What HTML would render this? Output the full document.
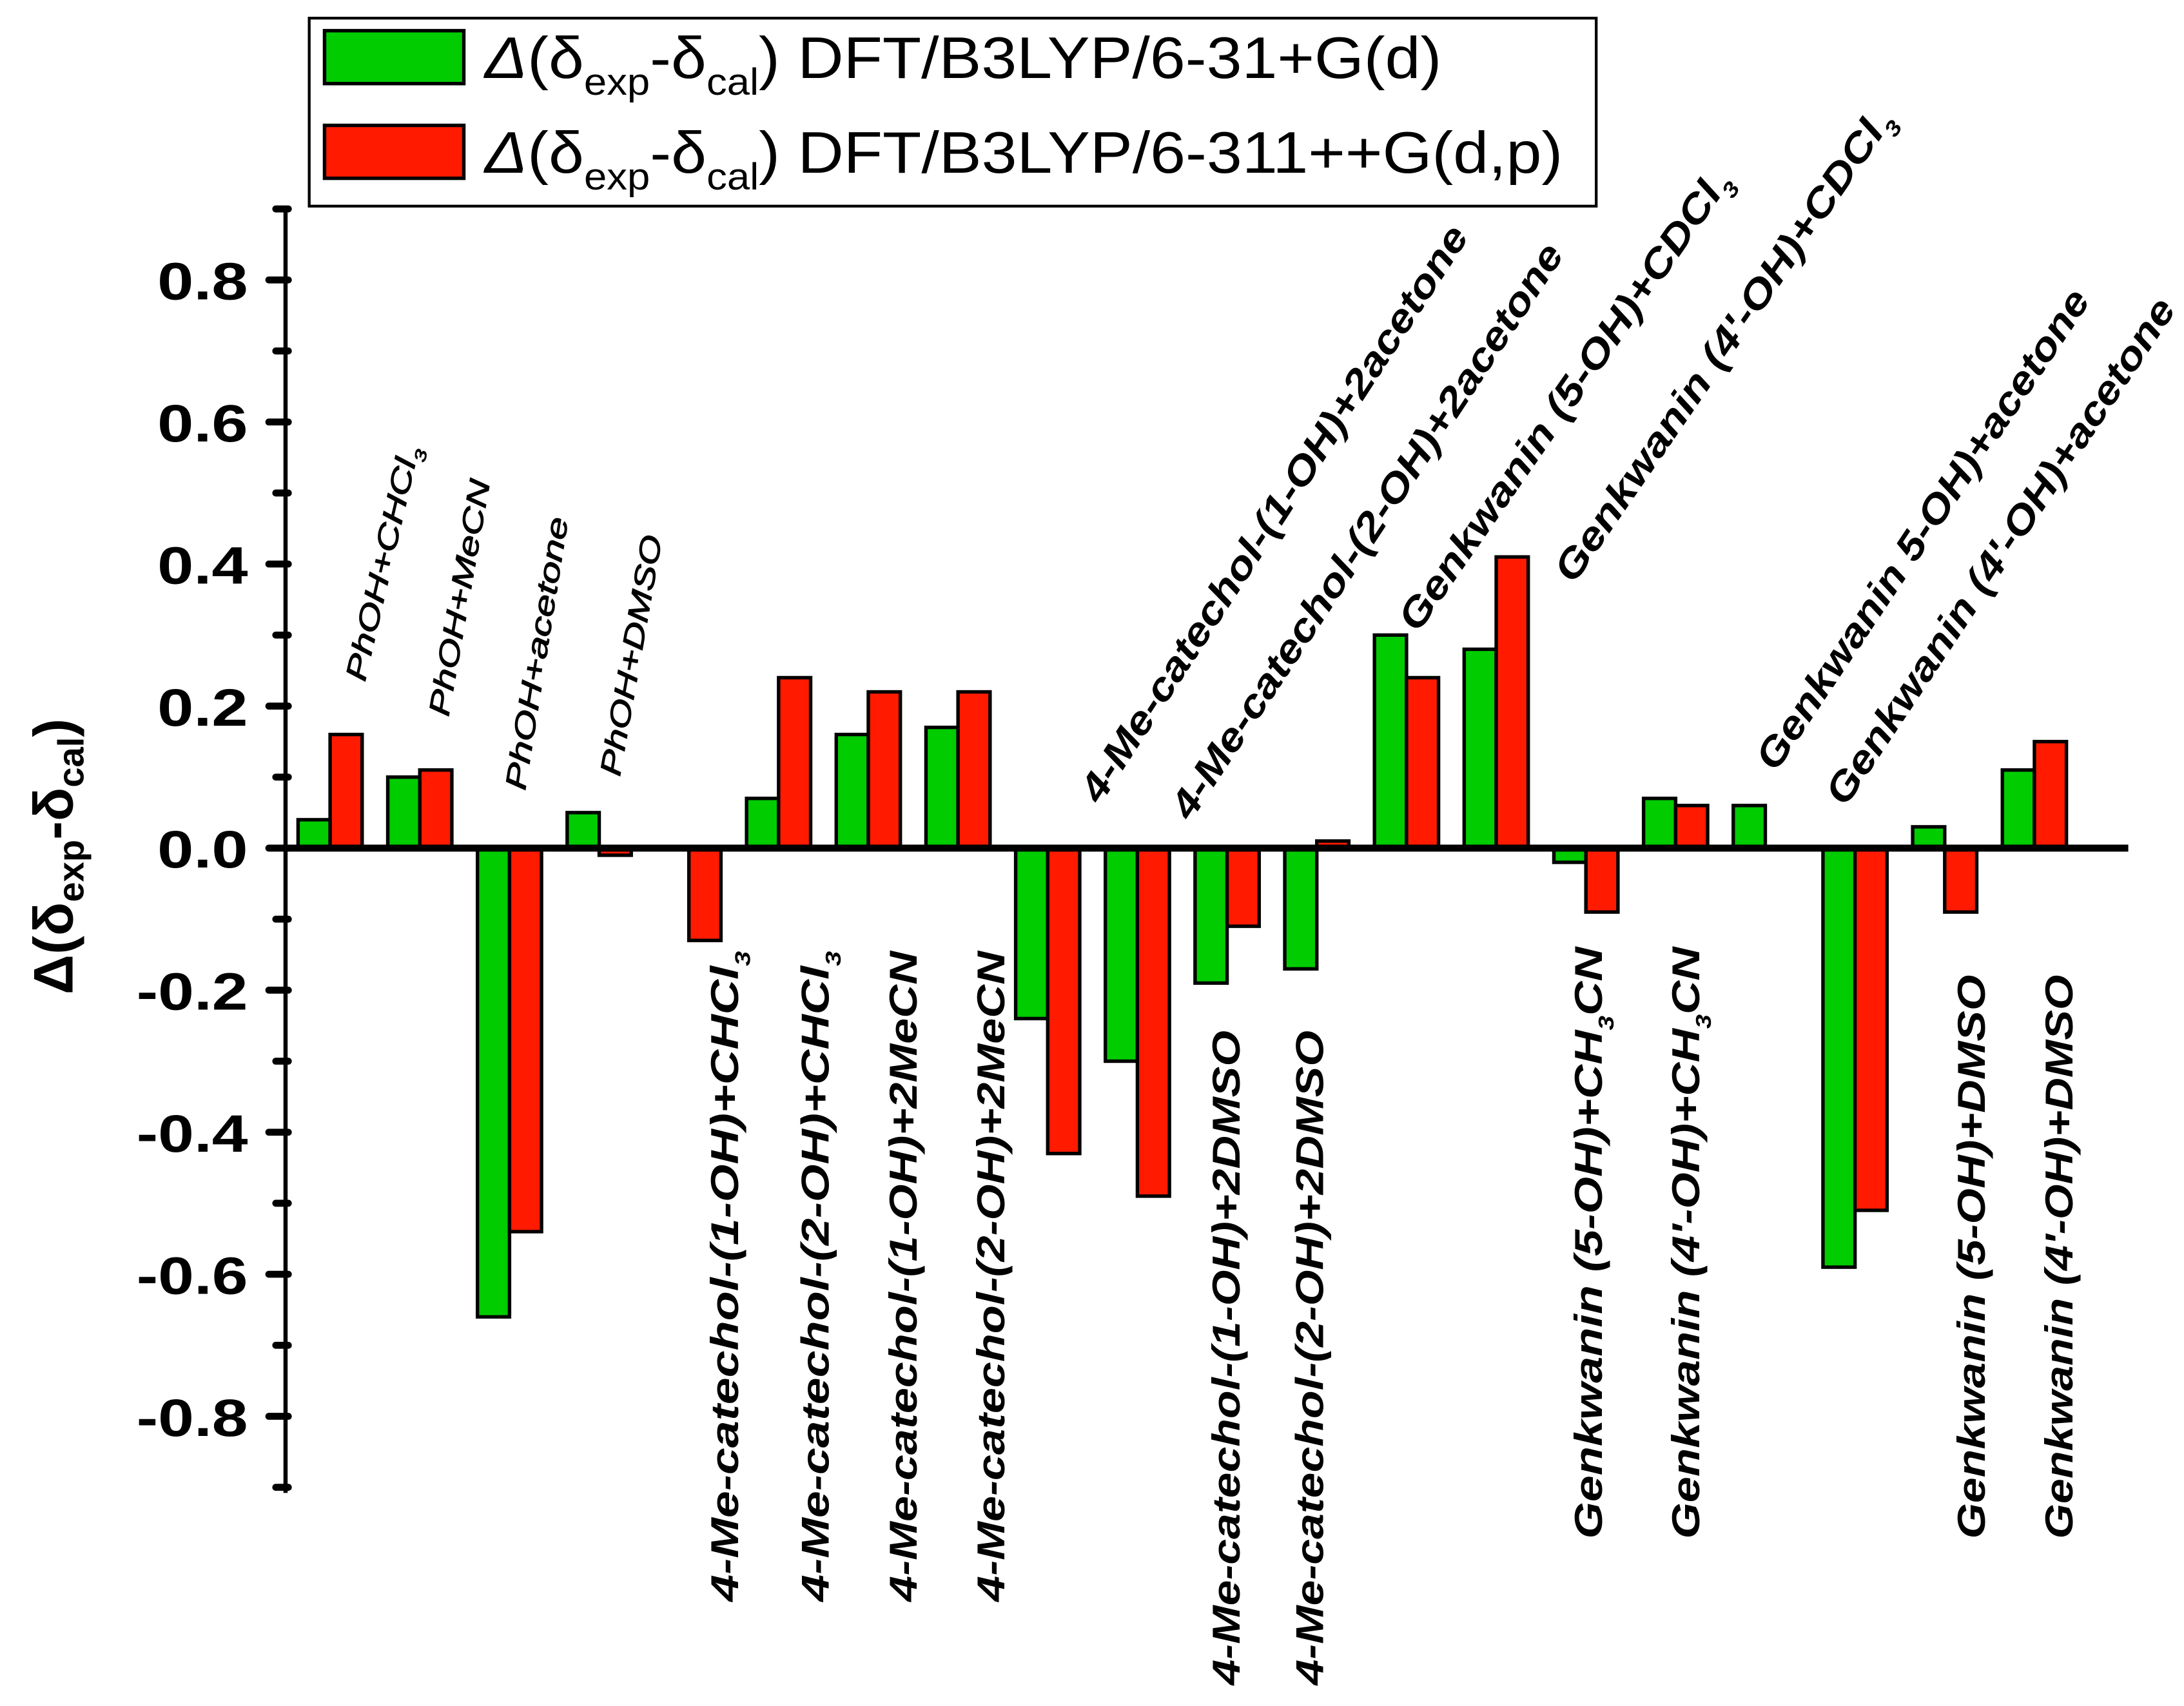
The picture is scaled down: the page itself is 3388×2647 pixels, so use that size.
<!DOCTYPE html>
<html><head><meta charset="utf-8"><style>
html,body{margin:0;padding:0;background:#fff}
svg{display:block;font-family:"Liberation Sans",sans-serif}
</style></head><body>
<svg id="chart" width="3388" height="2647" viewBox="0 0 1568 1225" xmlns="http://www.w3.org/2000/svg">
<g id="plot"></g>
</svg>
<script>
const categories = ["PhOH+CHCl3","PhOH+MeCN","PhOH+acetone","PhOH+DMSO",
"4-Me-catechol-(1-OH)+CHCl3","4-Me-catechol-(2-OH)+CHCl3","4-Me-catechol-(1-OH)+2MeCN","4-Me-catechol-(2-OH)+2MeCN",
"4-Me-catechol-(1-OH)+2acetone","4-Me-catechol-(2-OH)+2acetone","4-Me-catechol-(1-OH)+2DMSO","4-Me-catechol-(2-OH)+2DMSO",
"Genkwanin (5-OH)+CDCl3","Genkwanin (4'-OH)+CDCl3","Genkwanin (5-OH)+CH3CN","Genkwanin (4'-OH)+CH3CN",
"Genkwanin 5-OH)+acetone","Genkwanin (4'-OH)+acetone","Genkwanin (5-OH)+DMSO","Genkwanin (4'-OH)+DMSO"];
const greenValues = [0.04,0.10,-0.66,0.05,null,0.07,0.16,0.17,-0.24,-0.30,-0.19,-0.17,0.30,0.28,-0.02,0.07,0.06,-0.59,0.03,0.11];
const redValues = [0.16,0.11,-0.54,-0.01,-0.13,0.24,0.22,0.22,-0.43,-0.49,-0.11,0.01,0.24,0.41,-0.09,0.06,null,-0.51,-0.09,0.15];
const majorTicks = [-0.8,-0.6,-0.4,-0.2,0.0,0.2,0.4,0.6,0.8];
const tickLabels = ["-0.8","-0.6","-0.4","-0.2","0.0","0.2","0.4","0.6","0.8"];
const minorTicks = [-0.9,-0.7,-0.5,-0.3,-0.1,0.1,0.3,0.5,0.7,0.9];

const NS="http://www.w3.org/2000/svg";
const svg=document.getElementById('chart');
function el(tag,attrs,parent){const e=document.createElementNS(NS,tag);for(const k in attrs)e.setAttribute(k,attrs[k]);(parent||svg).appendChild(e);return e;}
const Y0=609, PX=510;
function y(v){return Y0 - v*PX;}
function xc(i){return 237 + i*64.4;}
const BW=23;

categories.forEach((c,i)=>{
  if(greenValues[i]!==null){
    const v=greenValues[i];
    const b=el('rect',{x:xc(i)-BW,y:Math.min(y(v),Y0),width:BW,height:Math.abs(y(v)-Y0),fill:'#00CC00',stroke:'#000','stroke-width':2.5});
    
    
  }
  if(redValues[i]!==null){
    const v=redValues[i];
    const b=el('rect',{x:xc(i),y:Math.min(y(v),Y0),width:BW,height:Math.abs(y(v)-Y0),fill:'#FF1A00',stroke:'#000','stroke-width':2.5});
    
    
  }
});

const xa=el('line',{x1:205,y1:Y0,x2:1528,y2:Y0,stroke:'#000','stroke-width':5});


const ya=el('line',{x1:205,y1:150,x2:205,y2:1072,stroke:'#000','stroke-width':3});


majorTicks.forEach((v,i)=>{
  const t=el('line',{x1:193,y1:y(v),x2:207,y2:y(v),stroke:'#000','stroke-width':5,'stroke-linecap':'round'});
  
  
  const neg=tickLabels[i].startsWith('-');
  const l=el('text',{x:178,y:y(v)+14,'text-anchor':'end','font-size':38,'font-weight':'bold',textLength:neg?80:65,lengthAdjust:'spacingAndGlyphs'});
  l.textContent=tickLabels[i];
  
  
});
minorTicks.forEach(v=>{
  const t=el('line',{x1:198,y1:y(v),x2:207,y2:y(v),stroke:'#000','stroke-width':5,'stroke-linecap':'round'});
  
  
});

const yt=el('text',{transform:'translate(52,615) rotate(-90)','text-anchor':'middle','font-size':40,'font-weight':'bold'});
yt.innerHTML='Δ(δ<tspan font-size="26" dy="8">exp</tspan><tspan dy="-8">-δ</tspan><tspan font-size="26" dy="8">cal</tspan><tspan dy="-8">)</tspan>';



const labelPos=[
 [262,490,-77,172,21,false],[322,515,-80,172,21,false],[377,568,-81,198,21,false],[445,558,-80,175,21,false],
 [530,1150,-90,467,28,true],[595,1150,-90,467,28,true],[658,1150,-90,467,28,true],[721,1150,-90,467,28,true],
 [790,578,-57,487,28,true],[855,590,-56.6,488,28,true],[890,1210,-90,470,28,true],[950,1210,-90,470,28,true],
 [1018,455,-55.3,395,28,true],[1130,420,-55.5,405,28,true],[1150,1105,-90,425,28,true],[1220,1105,-90,425,28,true],
 [1275,555,-56.3,408,28,true],[1325,580,-56.4,430,28,true],[1425,1105,-90,405,28,true],[1488,1105,-90,405,28,true]];
categories.forEach((c,i)=>{
  const p=labelPos[i];
  const t=el('text',{transform:`translate(${p[0]},${p[1]}) rotate(${p[2]})`,'font-size':p[4],'font-style':'italic','font-weight':p[5]?'bold':'normal',textLength:p[3],lengthAdjust:'spacingAndGlyphs'});
  if(!p[5]){t.setAttribute('stroke','#000');t.setAttribute('stroke-width','0.5');}
  const m=c.match(/^(.*CH?D?Cl|.*CH)(3)(.*)$/);
  if(m){t.innerHTML=`${m[1]}<tspan font-size="${p[4]*0.55}" dy="${p[4]*0.3}">3</tspan><tspan dy="${-p[4]*0.3}">${m[3]}</tspan>`;}
  else t.textContent=c;
  
  
});

const lg=el('g',{});


el('rect',{x:222,y:13,width:924,height:135,fill:'#fff',stroke:'#000','stroke-width':2},lg);
const legendItems=[['#00CC00','DFT/B3LYP/6-31+G(d)',22,687],['#FF1A00','DFT/B3LYP/6-311++G(d,p)',90,774]];
legendItems.forEach((it,k)=>{
  const s=el('rect',{x:233,y:it[2],width:100,height:38,fill:it[0],stroke:'#000','stroke-width':2.5},lg);
  
  
  const t=el('text',{x:348,y:it[2]+34,'font-size':42,textLength:it[3],lengthAdjust:'spacingAndGlyphs'},lg);
  t.innerHTML=`<tspan font-style="italic">Δ</tspan>(δ<tspan font-size="27" dy="12">exp</tspan><tspan dy="-12">-δ</tspan><tspan font-size="27" dy="12">cal</tspan><tspan dy="-12">) ${it[1]}</tspan>`;
  
  
});
</script>
</body></html>
